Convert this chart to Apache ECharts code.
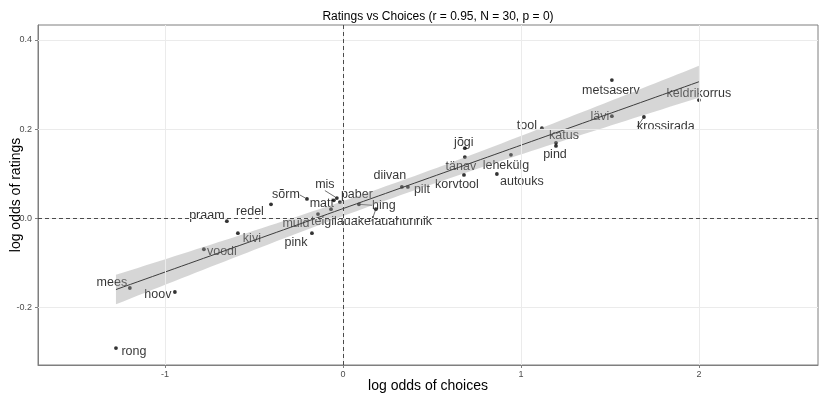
<!DOCTYPE html>
<html>
<head>
<meta charset="utf-8">
<script src="https://cdn.jsdelivr.net/npm/echarts@6/dist/echarts.min.js"></script>
<style>
  html, body { margin: 0; padding: 0; background: #fff; }
  #chart { width: 820px; height: 395px; }
</style>
</head>
<body>
<div id="chart"></div>
<script>
// Word list with log odds of being chosen (x) and log odds of ratings (y)
const words = ['rong', 'mees', 'hoov', 'voodi', 'kivi', 'praam', 'redel', 'pink', 'sõrm', 'mis',
  'matt', 'paber', 'telgilauake', 'muld', 'hing', 'lauahunnik', 'diivan', 'pilt', 'korvtool', 'tänav',
  'jõgi', 'lehekülg', 'autouks', 'tool', 'katus', 'pind', 'metsaserv', 'lävi', 'krossirada', 'keldrikorrus'];
const choices = [-1.275, -1.197, -0.944, -0.781, -0.590, -0.652, -0.404, -0.174, -0.202, -0.034,
  -0.051, -0.017, -0.067, -0.140, 0.090, 0.185, 0.331, 0.365, 0.680, 0.685,
  0.685, 0.944, 0.865, 1.118, 1.197, 1.197, 1.511, 1.511, 1.691, 2.000];
const ratings = [-0.292, -0.157, -0.166, -0.070, -0.034, -0.007, 0.031, -0.034, 0.043, 0.045,
  0.040, 0.036, 0.020, 0.009, 0.031, 0.020, 0.070, 0.070, 0.097, 0.137,
  0.157, 0.142, 0.099, 0.202, 0.169, 0.162, 0.310, 0.229, 0.227, 0.265];

const xTicks = [-1, 0, 1, 2];
const yTicks = [-0.2, 0, 0.2, 0.4];

// Repelled label offsets (pixels) and which labels get a leader segment
const labelShift = [[18, 3], [-18, -5], [-17, 3], [18, 2], [14, 5], [-20, -6], [-21, 7], [-16, 9], [-21, -4], [-12, -14],
  [-12, 3], [17, -8], [10, 12], [-22, 9], [25, 1], [26, 12], [-12, -11], [14, 3], [-7, 10], [-4, 9],
  [-1, -6], [-5, 11], [25, 8], [-15, -3], [8, -7], [-1, 9], [-1, 10], [-12, 0], [22, 10], [0, -7]];
const segmentLabels = ['mis', 'sõrm', 'hing', 'lauahunnik', 'krossirada'];

// Least-squares fit with 95% confidence band
const n = choices.length;
const mx = choices.reduce((s, v) => s + v, 0) / n;
const my = ratings.reduce((s, v) => s + v, 0) / n;
let sxx = 0, sxy = 0;
for (let i = 0; i < n; i++) {
  sxx += (choices[i] - mx) ** 2;
  sxy += (choices[i] - mx) * (ratings[i] - my);
}
const slope = sxy / sxx;
const icpt = my - slope * mx;
let sse = 0;
for (let i = 0; i < n; i++) sse += (ratings[i] - (icpt + slope * choices[i])) ** 2;
const sRes = Math.sqrt(sse / (n - 2));
const tCrit = 2.048; // t(0.975, df = 28)
const xLo = Math.min(...choices), xHi = Math.max(...choices);
const fitLine = [], bandUp = [], bandDn = [];
const steps = 80;
for (let k = 0; k <= steps; k++) {
  const x = xLo + (xHi - xLo) * k / steps;
  const yh = icpt + slope * x;
  const se = sRes * Math.sqrt(1 / n + (x - mx) ** 2 / sxx);
  fitLine.push([x, yh]);
  bandUp.push([x, yh + tCrit * se]);
  bandDn.push([x, yh - tCrit * se]);
}

const chart = echarts.init(document.getElementById('chart'), null, { renderer: 'canvas' });
const font = 'Liberation Sans, Arial, sans-serif';

chart.setOption({
  animation: false,
  backgroundColor: '#ffffff',
  textStyle: { fontFamily: font },
  title: {
    text: 'Ratings vs Choices (r = 0.95, N = 30, p = 0)',
    left: 433, top: 6, textAlign: 'center',
    textStyle: { fontSize: 12, fontWeight: 'normal', color: '#000', fontFamily: font }
  },
  grid: {
    left: 38, right: 2, top: 25, bottom: 30,
    outerBoundsMode: 'none', containLabel: false,
    show: true, borderColor: '#7f7f7f', borderWidth: 1, backgroundColor: 'transparent'
  },
  xAxis: {
    type: 'value', min: -1.713, max: 2.669,
    name: 'log odds of choices', nameLocation: 'middle', nameGap: 14, nameMoveOverlap: false,
    nameTextStyle: { fontSize: 14, color: '#000', fontFamily: font },
    axisLine: { show: true, onZero: false, lineStyle: { color: '#7f7f7f', width: 1 } },
    axisTick: { show: true, customValues: xTicks, length: 3, lineStyle: { color: '#7f7f7f' } },
    axisLabel: { customValues: xTicks, fontSize: 9, color: '#4d4d4d', margin: 5, formatter: v => String(v) },
    splitLine: { show: false }
  },
  yAxis: {
    type: 'value', min: -0.330, max: 0.4337,
    name: 'log odds of ratings', nameLocation: 'middle', nameGap: 15, nameMoveOverlap: false,
    nameTextStyle: { fontSize: 14, color: '#000', fontFamily: font },
    axisLine: { show: true, onZero: false, lineStyle: { color: '#7f7f7f', width: 1 } },
    axisTick: { show: true, customValues: yTicks, length: 3, lineStyle: { color: '#7f7f7f' } },
    axisLabel: { customValues: yTicks, fontSize: 9, color: '#4d4d4d', margin: 6, formatter: v => v.toFixed(1) },
    splitLine: { show: false }
  },
  series: [
    {
      // panel grid lines and zero reference lines
      type: 'line', data: [], z: 1, silent: true,
      markLine: {
        silent: true, symbol: 'none', label: { show: false }, animation: false,
        data: [
          ...xTicks.map(v => ({ xAxis: v, lineStyle: { color: '#ebebeb', width: 1, type: 'solid' } })),
          ...yTicks.map(v => ({ yAxis: v, lineStyle: { color: '#ebebeb', width: 1, type: 'solid' } })),
          { xAxis: 0, lineStyle: { color: '#222', width: 0.8, type: [4, 3] } },
          { yAxis: 0, lineStyle: { color: '#222', width: 0.8, type: [4, 3] } }
        ]
      }
    },
    {
      type: 'scatter', z: 2,
      symbol: 'circle', symbolSize: 3.8,
      itemStyle: { color: '#000' },
      data: words.map((w, i) => ({
        name: w, value: [choices[i], ratings[i]],
        labelLine: { show: segmentLabels.indexOf(w) >= 0, lineStyle: { color: '#333', width: 0.7 } }
      })),
      label: {
        show: true, position: 'inside', formatter: p => p.name,
        fontSize: 12.5, color: '#000', fontFamily: font,
        textBorderWidth: 0, textBorderColor: 'transparent', textShadowBlur: 0
      },
      labelLine: { show: false, smooth: false, length2: 0 },
      labelLayout: p => ({ dx: labelShift[p.dataIndex][0], dy: labelShift[p.dataIndex][1] })
    },
    {
      // confidence band
      type: 'custom', z: 3, silent: true,
      data: [[0, 0]],
      renderItem: (params, api) => {
        const pts = bandUp.map(d => api.coord(d)).concat(bandDn.slice().reverse().map(d => api.coord(d)));
        return { type: 'polygon', shape: { points: pts }, style: { fill: 'rgba(153,153,153,0.4)' } };
      }
    },
    {
      type: 'line', z: 4, silent: true,
      data: fitLine, showSymbol: false, symbol: 'none',
      lineStyle: { color: '#3d3d3d', width: 1 }
    }
  ]
});
</script>
</body>
</html>
